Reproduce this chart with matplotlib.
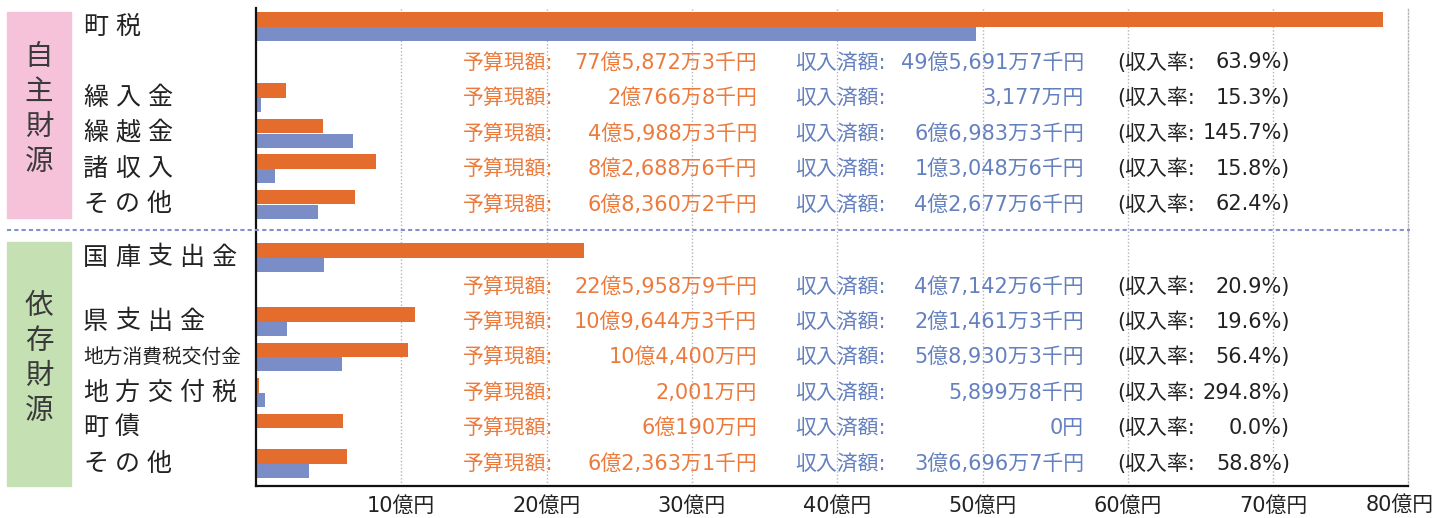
import matplotlib
matplotlib.use('Agg')
import matplotlib.pyplot as plt
import matplotlib.transforms as mtrans
from matplotlib.patches import Rectangle
from matplotlib.lines import Line2D

plt.rcParams['font.family'] = ['Noto Sans CJK JP', 'DejaVu Sans']
NUMFONT = ['DejaVu Sans', 'Noto Sans CJK JP']

# ---------------- data ----------------
categories = ['町税', '繰入金', '繰越金', '諸収入', 'その他',
              '国庫支出金', '県支出金', '地方消費税交付金', '地方交付税', '町債', 'その他']
group_names = ['自主財源', '依存財源']
group_sizes = [5, 6]
budget = [77.5872, 2.0767, 4.5988, 8.2689, 6.8360,
          22.5959, 10.9644, 10.4400, 0.2001, 6.0190, 6.2363]   # 億円
income = [49.5692, 0.3177, 6.6983, 1.3049, 4.2678,
          4.7143, 2.1461, 5.8930, 0.5900, 0.0, 3.6697]           # 億円
budget_text = ['77億5,872万3千円', '2億766万8千円', '4億5,988万3千円', '8億2,688万6千円',
               '6億8,360万2千円', '22億5,958万9千円', '10億9,644万3千円', '10億4,400万円',
               '2,001万円', '6億190万円', '6億2,363万1千円']
income_text = ['49億5,691万7千円', '3,177万円', '6億6,983万3千円', '1億3,048万6千円',
               '4億2,677万6千円', '4億7,142万6千円', '2億1,461万3千円', '5億8,930万3千円',
               '5,899万8千円', '0円', '3億6,696万7千円']
rate_text = ['63.9%', '15.3%', '145.7%', '15.8%', '62.4%',
             '20.9%', '19.6%', '56.4%', '294.8%', '0.0%', '58.8%']
xticks = [10, 20, 30, 40, 50, 60, 70]
xtick_labels = ['10億円', '20億円', '30億円', '40億円', '50億円', '60億円', '70億円']
last_label = '80億円'

# ---------------- layout ----------------
ypos = [0, 2, 3, 4, 5, 6.5, 8.3, 9.3, 10.3, 11.3, 12.3]
text_rows = [1, 2, 3, 4, 5, 7.32, 8.3, 9.3, 10.3, 11.3, 12.3]

C_OR = '#E46C2C'
C_BL = '#7A8DC6'
C_OR_T = '#EC7A3C'
C_BL_T = '#6480BF'
C_TX = '#222222'

W, H = 1438, 518
fig = plt.figure(figsize=(W / 100, H / 100), dpi=100)

def fx(px):
    return px / W

def fy(py):
    return 1 - py / H

ax = fig.add_axes([fx(256), fy(486), fx(1408) - fx(256), fy(8) - fy(486)])
xmax = (1408 - 256) / 14.53
ax.set_xlim(0, xmax)
ax.set_ylim(12.93, -0.535)

bh = 0.41
ax.barh([y - bh / 2 for y in ypos], budget, height=bh, color=C_OR, zorder=3)
ax.barh([y + bh / 2 for y in ypos], income, height=0.39, color=C_BL, zorder=3)

ax.set_xticks(xticks)
ax.set_xticklabels(xtick_labels, fontsize=15, color=C_TX, family=NUMFONT)
ax.tick_params(axis='x', length=0, pad=7)
ax.set_yticks([])
ax.grid(axis='x', linestyle=(0, (1, 1.5)), color='#B5B5B5', lw=1, zorder=0)
ax.spines['top'].set_visible(False)
ax.spines['right'].set_linestyle((0, (1, 1.5)))
ax.spines['right'].set_color('#B5B5B5')
ax.spines['right'].set_linewidth(1)
ax.spines['left'].set_linewidth(1.6)
ax.spines['bottom'].set_linewidth(1.6)
ax.spines['left'].set_color('#111111')
ax.spines['bottom'].set_color('#111111')
ax.spines['left'].set_zorder(5)

fig.text(fx(1400), fy(505), last_label, fontsize=15, color=C_TX, ha='center', va='center',
         family=NUMFONT)

# blended transform: x in figure fraction, y in data
bt = mtrans.blended_transform_factory(fig.transFigure, ax.transData)

# category labels
for cat, y in zip(categories, ypos):
    if len(cat) > 5:
        fig.text(fx(83), y, cat, transform=bt, fontsize=14.2, color=C_TX,
                 ha='left', va='center')
    else:
        for i, ch in enumerate(cat):
            fig.text(fx(83 + i * 32), y, ch, transform=bt, fontsize=18, color=C_TX,
                     ha='left', va='center')

# annotations
kw = dict(transform=bt, fontsize=15, va='center', family=NUMFONT)
for i, y in enumerate(text_rows):
    fig.text(fx(463), y, '予算現額:', color=C_OR_T, ha='left', **kw)
    fig.text(fx(757), y, budget_text[i], color=C_OR_T, ha='right', **kw)
    fig.text(fx(795), y, '収入済額:', color=C_BL_T, ha='left', **kw)
    fig.text(fx(1084), y, income_text[i], color=C_BL_T, ha='right', **kw)
    fig.text(fx(1117), y, '(収入率:', color=C_TX, ha='left', **kw)
    fig.text(fx(1290), y, rate_text[i] + ')', color=C_TX, ha='right', **kw)

# group boxes
boxes = [(12, 218, '#F6C2DA', [57, 92, 127, 162]),
         (242, 486, '#C5E0B3', [306, 341, 376, 411])]
for (top, bot, col, cy), name in zip(boxes, group_names):
    fig.patches.append(Rectangle((fx(7), fy(bot)), fx(71) - fx(7), fy(top) - fy(bot),
                                 transform=fig.transFigure, color=col, zorder=0))
    for ch, yy in zip(name, cy):
        fig.text(fx(39), fy(yy), ch, fontsize=20.5, color='#3A3A3A', ha='center', va='center')

# dashed separator
fig.add_artist(Line2D([fx(7), fx(1410)], [fy(230.5), fy(230.5)], transform=fig.transFigure,
                      color='#7F93CE', lw=1.5, linestyle=(0, (2, 1.5))))

fig.savefig('out.png', dpi=100)
